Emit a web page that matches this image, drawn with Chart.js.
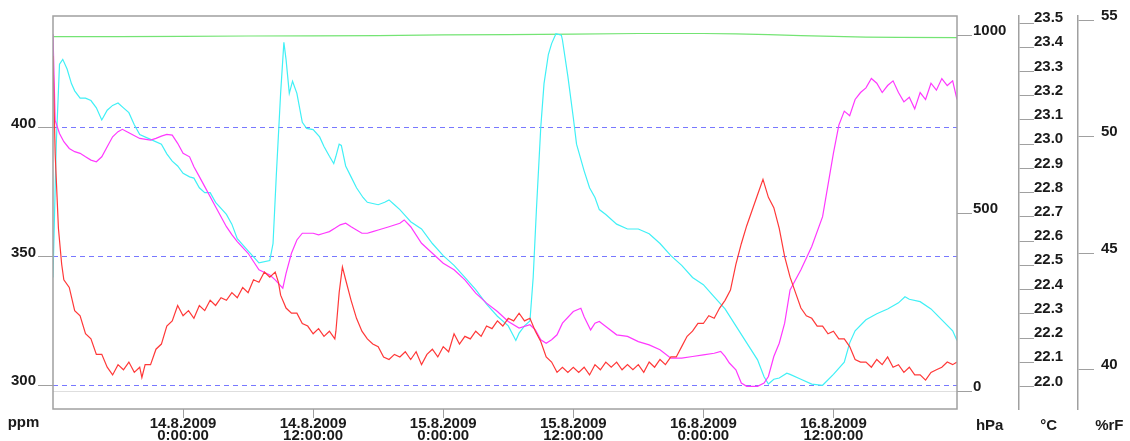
<!DOCTYPE html>
<html>
<head>
<meta charset="utf-8">
<script src="https://cdn.jsdelivr.net/npm/chart.js@4/dist/chart.umd.min.js"></script>
<style>
html, body { margin: 0; padding: 0; background: #fff; }
</style>
</head>
<body>
<canvas id="chart" width="1130" height="441"></canvas>
<script>
// hours counted from 14.8.2009 0:00:00
var xTickHours = [0, 12, 24, 36, 48, 60];
var xTickDates = ['14.8.2009', '14.8.2009', '15.8.2009', '15.8.2009', '16.8.2009', '16.8.2009'];
var xTickTimes = ['0:00:00', '12:00:00', '0:00:00', '12:00:00', '0:00:00', '12:00:00'];

var ppmTicks = [300, 350, 400];
var hpaTicks = [0, 500, 1000];
var tempTicks = [22.0, 22.1, 22.2, 22.3, 22.4, 22.5, 22.6, 22.7, 22.8, 22.9, 23.0, 23.1, 23.2, 23.3, 23.4, 23.5];
var humTicks = [40, 45, 50, 55];

var unitNames = ['ppm', 'hPa', '°C', '%rF'];

// CO2 (red)
var co2Hours = [
	-12, -11.8, -11.5, -11.2, -11, -10.5, -10, -9.5, -9, -8.5,
	-8, -7.5, -7, -6.5, -6, -5.5, -5, -4.5, -4, -3.8,
	-3.5, -3, -2.5, -2, -1.5, -1, -0.5, 0, 0.5, 1,
	1.5, 2, 2.5, 3, 3.5, 4, 4.5, 5, 5.5, 6,
	6.5, 7, 7.5, 8, 8.5, 8.8, 9, 9.5, 10, 10.5,
	11, 11.5, 12, 12.5, 13, 13.5, 14, 14.1, 14.4, 14.7,
	15, 15.5, 16, 16.5, 17, 17.5, 18, 18.5, 19, 19.5,
	20, 20.5, 21, 21.5, 22, 22.5, 23, 23.5, 24, 24.5,
	25, 25.5, 26, 26.5, 27, 27.5, 28, 28.5, 29, 29.5,
	30, 30.5, 31, 31.5, 32, 32.5, 33, 33.5, 34, 34.5,
	35, 35.5, 36, 36.5, 37, 37.5, 38, 38.5, 39, 39.5,
	40, 40.5, 41, 41.5, 42, 42.5, 43, 43.5, 44, 44.5,
	45, 45.5, 46, 46.5, 47, 47.5, 48, 48.5, 49, 49.5,
	50, 50.5, 51, 51.5, 52, 52.5, 53, 53.5, 54, 54.5,
	55, 55.5, 56, 56.5, 57, 57.5, 58, 58.5, 59, 59.5,
	60, 60.5, 61, 61.5, 62, 62.5, 63, 63.5, 64, 64.5,
	65, 65.5, 66, 66.5, 67, 67.5, 68, 68.5, 69, 69.5,
	70, 70.5, 71, 71.4
];
var co2Ppm = [
	428, 390, 361, 347, 341, 338, 329, 327, 320, 318,
	312, 312, 307, 304, 308, 306, 309, 305, 307, 303,
	308, 308, 314, 316, 323, 325, 331, 327, 329, 326,
	331, 329, 333, 331, 334, 333, 336, 334, 338, 336,
	341, 340, 344, 342, 344, 340, 335, 330, 328, 328,
	324, 323, 320, 322, 319, 321, 318, 321, 336, 346,
	341, 333, 326, 321, 318, 316, 315, 311, 310, 312,
	311, 313, 310, 313, 308, 312, 314, 311, 315, 313,
	320, 316, 319, 318, 321, 319, 323, 322, 325, 323,
	326, 325, 328, 325, 326, 321, 317, 311, 309, 305,
	307, 305, 307, 305, 307, 304, 308, 306, 309, 307,
	309, 306, 308, 306, 308, 305, 309, 307, 310, 308,
	311, 311, 315, 319, 321, 324, 324, 327, 326, 330,
	333, 337, 347, 355, 362, 368, 374, 380, 373, 369,
	361, 350, 342, 336, 330, 327, 326, 323, 323, 320,
	321, 318, 318, 315, 310, 309, 309, 307, 310, 308,
	311, 307, 308, 305, 307, 304, 304, 302, 305, 306,
	307, 309, 308, 309
];

// temperature (cyan)
var tempHours = [
	-12, -11.7, -11.4, -11.1, -10.7, -10.3, -10, -9.5, -9, -8.5,
	-8, -7.5, -7, -6.5, -6, -5.5, -5, -4.5, -4, -3,
	-2, -1.5, -1, -0.5, 0, 0.6, 1, 1.5, 2, 2.5,
	3, 4, 4.5, 5, 6, 7, 8, 8.3, 8.6, 9,
	9.3, 9.5, 9.8, 10.1, 10.5, 11, 11.4, 12, 12.6, 13,
	13.5, 13.9, 14.1, 14.4, 14.6, 15, 15.5, 16, 16.6, 17,
	17.5, 18, 18.6, 19, 19.5, 20, 20.6, 21, 22, 23,
	24, 25, 26, 27, 28, 29, 30, 30.7, 31, 31.5,
	32, 32.3, 32.6, 33, 33.3, 33.7, 34, 34.4, 34.9, 35,
	35.5, 36, 36.3, 37, 37.5, 38, 38.4, 39, 40, 41,
	42, 43, 44, 45, 46, 47, 48, 49, 50, 51,
	52, 53, 53.6, 54, 54.5, 55, 55.7, 56, 57, 58,
	59, 60, 61, 61.5, 62, 63, 64, 65, 66, 66.6,
	67, 68, 69, 70, 71, 71.4
];
var tempC = [
	22.45, 23.0, 23.33, 23.35, 23.31, 23.25, 23.22, 23.19, 23.19, 23.18,
	23.15, 23.10, 23.14, 23.16, 23.17, 23.15, 23.13, 23.08, 23.04, 23.02,
	23.0, 22.96, 22.93, 22.91, 22.88, 22.865, 22.86, 22.82, 22.80, 22.80,
	22.76, 22.71, 22.67, 22.61, 22.56, 22.51, 22.52, 22.59, 22.87, 23.21,
	23.42, 23.35, 23.21, 23.26, 23.21, 23.09, 23.065, 23.06, 23.03, 22.99,
	22.95, 22.92, 22.95, 23.0, 22.995, 22.91, 22.865, 22.82, 22.78, 22.76,
	22.755, 22.75, 22.76, 22.77, 22.75, 22.73, 22.70, 22.68, 22.65, 22.59,
	22.54, 22.50, 22.45, 22.40, 22.34, 22.29, 22.25, 22.19, 22.22, 22.25,
	22.27, 22.45, 22.73, 23.07, 23.25, 23.37, 23.415, 23.456, 23.45, 23.43,
	23.28, 23.11, 23.0, 22.89, 22.82, 22.78, 22.73, 22.71, 22.67, 22.65,
	22.65, 22.63, 22.59, 22.54, 22.50, 22.45, 22.42, 22.37, 22.32, 22.25,
	22.18, 22.11, 22.04, 22.01, 22.03, 22.035, 22.055, 22.05, 22.03, 22.01,
	22.005, 22.05, 22.10, 22.18, 22.23, 22.275, 22.30, 22.32, 22.345, 22.37,
	22.36, 22.35, 22.32, 22.275, 22.23, 22.19
];

// relative humidity (magenta)
var humHours = [
	-12, -11.8, -11.4, -11, -10.5, -10, -9.5, -9, -8.5, -8,
	-7.5, -7, -6.5, -6, -5.6, -5, -4, -3, -2.5, -2,
	-1.5, -1, -0.5, 0, 0.6, 1, 1.5, 2, 3, 4,
	4.5, 5, 6, 7, 8, 8.5, 9.2, 9.5, 10, 10.5,
	11, 12, 12.5, 13, 13.5, 14, 14.5, 15, 15.5, 16,
	16.5, 17, 17.5, 18, 19, 20, 20.4, 21, 22, 23,
	24, 25, 26, 27, 28, 29, 30, 31, 32, 32.5,
	33, 33.5, 34, 34.5, 35, 36, 36.7, 37, 37.6, 38,
	38.4, 39, 40, 41, 42, 43, 44, 45, 46, 47,
	48, 49, 49.6, 50, 50.4, 51, 51.5, 52, 53, 53.6,
	54, 54.5, 55, 55.5, 56, 57, 58, 59, 60, 60.5,
	61, 61.5, 62, 62.5, 63, 63.5, 64, 64.5, 65, 65.5,
	66, 66.5, 67, 67.5, 68, 68.5, 69, 69.5, 70, 70.5,
	71, 71.4
];
var humRf = [
	54.4, 50.7, 50.14, 49.79, 49.5, 49.36, 49.29, 49.14, 49.0, 48.93,
	49.14, 49.57, 50.0, 50.22, 50.32, 50.17, 49.93, 49.86, 49.93, 50.03,
	50.1, 50.07, 49.72, 49.29, 49.14, 48.71, 48.29, 47.86, 47.0, 46.14,
	45.8, 45.5, 45.0, 44.29, 44.07, 43.86, 43.5, 44.14, 45.0, 45.57,
	45.86, 45.86, 45.79, 45.86, 45.93, 46.07, 46.22, 46.29, 46.14, 46.0,
	45.86, 45.86, 45.93, 46.0, 46.14, 46.29, 46.43, 46.14, 45.43, 45.0,
	44.57, 44.29, 43.86, 43.29, 42.86, 42.5, 42.07, 41.79, 41.93, 41.71,
	41.29, 41.14, 41.29, 41.5, 42.0, 42.5, 42.64, 42.28, 41.71, 42.0,
	42.07, 41.86, 41.5, 41.43, 41.21, 41.07, 40.86, 40.5, 40.5, 40.57,
	40.64, 40.71, 40.79, 40.57, 40.29, 40.0, 39.43, 39.29, 39.29, 39.43,
	39.71, 40.57, 41.14, 42.0, 43.43, 44.29, 45.29, 46.57, 49.3, 50.5,
	51.1, 50.9, 51.6, 51.9, 52.1, 52.5, 52.3, 51.9, 52.2, 52.4,
	51.9, 51.5, 51.7, 51.2, 51.9, 51.6, 52.3, 52.0, 52.5, 52.2,
	52.4, 51.6
];

// air pressure (green)
var pressHours = [-12, -6, 0, 6, 12, 18, 24, 30, 36, 42, 48, 51, 54, 57, 60, 63, 66, 71.4];
var pressHpa = [996, 996, 997, 998, 998.5, 999, 1001, 1002, 1003, 1005, 1005, 1004, 1002, 999, 997, 995, 994, 993.5];

var FONT = '"Liberation Sans", Arial, sans-serif';
var TEXT = '#1a1a1a';
var AXIS = '#a0a0a0';

Chart.defaults.font.family = FONT;

function points(hours, values) {
	return hours.map((h, i) => ({x: h, y: values[i]}));
}

function fixTicks(list) {
	return scale => { scale.ticks = list.map(v => ({value: v})); };
}

var labelFont = {size: 15, weight: 'bold', lineHeight: 1.2};

// frame round the plot and unit names under each value axis
var framePlugin = {
	id: 'frame',
	afterDraw: chart => {
		var ctx = chart.ctx;
		var a = chart.chartArea;
		ctx.save();
		ctx.strokeStyle = AXIS;
		ctx.lineWidth = 1.5;
		ctx.strokeRect(a.left, a.top, a.right - a.left, a.bottom - a.top);

		ctx.fillStyle = TEXT;
		ctx.font = 'bold 15px ' + FONT;
		ctx.textAlign = 'center';
		ctx.textBaseline = 'alphabetic';
		['ppm', 'hpa', 'temp', 'hum'].forEach((id, i) => {
			var s = chart.scales[id];
			var o = s.options;
			var w = 0;
			s.ticks.forEach(t => { w = Math.max(w, ctx.measureText(t.label).width); });
			var x;
			if (o.position === 'left') {
				x = s.right - o.grid.tickLength - o.ticks.padding - w / 2;
			} else {
				x = s.left + o.grid.tickLength + o.ticks.padding + w / 2;
			}
			ctx.fillText(unitNames[i], x, i === 0 ? 427 : 429.5);
		});
		ctx.restore();
	}
};

new Chart(document.getElementById('chart'), {
	type: 'line',
	data: {
		datasets: [{
			label: 'CO2',
			data: points(co2Hours, co2Ppm),
			yAxisID: 'ppm',
			borderColor: '#ff3838',
		}, {
			label: 'rF',
			data: points(humHours, humRf),
			yAxisID: 'hum',
			borderColor: '#ff38ff',
		}, {
			label: 'Temp',
			data: points(tempHours, tempC),
			yAxisID: 'temp',
			borderColor: '#40f0f6',
		}, {
			label: 'Druck',
			data: points(pressHours, pressHpa),
			yAxisID: 'hpa',
			borderColor: '#74e474',
		}]
	},
	plugins: [framePlugin],
	options: {
		responsive: false,
		animation: false,
		devicePixelRatio: 1,
		layout: {padding: {top: 16, left: 0, right: 0, bottom: 0}},
		elements: {
			point: {radius: 0},
			line: {borderWidth: 1.2, tension: 0}
		},
		plugins: {
			legend: {display: false},
			tooltip: {enabled: false}
		},
		scales: {
			x: {
				type: 'linear',
				position: 'bottom',
				min: -12,
				max: 71.4,
				afterBuildTicks: fixTicks(xTickHours),
				afterFit: s => { s.height = 32; },
				border: {display: false},
				grid: {drawOnChartArea: false, tickLength: 9, tickColor: AXIS},
				ticks: {
					autoSkip: false,
					maxRotation: 0,
					padding: 0,
					color: TEXT,
					font: {size: 15, weight: 'bold', lineHeight: 0.78},
					callback: v => {
						var i = xTickHours.indexOf(v);
						return [xTickDates[i], xTickTimes[i]];
					}
				}
			},
			ppm: {
				type: 'linear',
				position: 'left',
				min: 290.76,
				max: 443.5,
				afterBuildTicks: fixTicks(ppmTicks),
				afterFit: s => { s.width = 53; },
				border: {display: false, dash: [5, 4]},
				grid: {color: '#7878ff', lineWidth: 1, tickLength: 15, tickColor: AXIS},
				ticks: {padding: 2, labelOffset: -4, color: TEXT, font: labelFont, callback: v => String(v)}
			},
			hpa: {
				type: 'linear',
				position: 'right',
				weight: 0,
				min: -49.3,
				max: 1054.1,
				afterBuildTicks: fixTicks(hpaTicks),
				afterFit: s => { s.width = 62; },
				border: {display: false},
				grid: {
					color: c => c.tick && c.tick.value === 0 ? '#dedede' : 'rgba(0,0,0,0)',
					tickLength: 15,
					tickColor: AXIS
				},
				ticks: {padding: 1, labelOffset: -4.5, color: TEXT, font: labelFont, callback: v => String(v)}
			},
			temp: {
				type: 'linear',
				position: 'right',
				weight: 1,
				min: 21.907,
				max: 23.529,
				afterBuildTicks: fixTicks(tempTicks),
				afterFit: s => { s.width = 59; },
				border: {display: true, color: AXIS, width: 1.5},
				grid: {drawOnChartArea: false, tickLength: 15, tickColor: AXIS},
				ticks: {padding: 0, labelOffset: -5, color: TEXT, font: labelFont, callback: v => v.toFixed(1)}
			},
			hum: {
				type: 'linear',
				position: 'right',
				weight: 2,
				min: 38.316,
				max: 55.184,
				afterBuildTicks: fixTicks(humTicks),
				afterFit: s => { s.width = 52; },
				border: {display: true, color: AXIS, width: 1.5},
				grid: {drawOnChartArea: false, tickLength: 16, tickColor: AXIS},
				ticks: {padding: 7, labelOffset: -4.5, color: TEXT, font: labelFont, callback: v => String(v)}
			}
		}
	}
});
</script>
</body>
</html>
